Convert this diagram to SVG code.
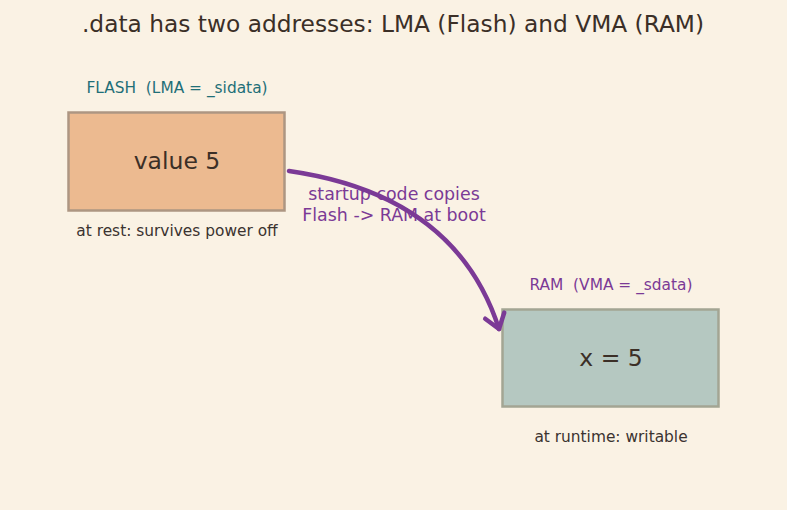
<svg xmlns="http://www.w3.org/2000/svg" width="787" height="510" viewBox="0 0 787 510">
<defs>
<style>
text{font-family:"DejaVu Sans","Liberation Sans",sans-serif;text-anchor:middle;white-space:pre}
.title{font-size:23.3px;fill:#3b2f27}
.lbl{font-size:15.4px}
.cap{font-size:15.4px;fill:#3b3330}
.val{font-size:23.5px;fill:#3b2f27}
.box{stroke-width:2.5}
.edge{fill:none;stroke:#7b3a96;stroke-width:4.5;stroke-linecap:round}
</style>
<marker id="arr" markerUnits="userSpaceOnUse" markerWidth="34" markerHeight="34" refX="17" refY="17" orient="auto" viewBox="0 0 34 34">
<polyline points="3,7 17,17 3,27" fill="none" stroke="#7b3a96" stroke-width="4.5" stroke-linecap="round" stroke-linejoin="round"/>
</marker>
</defs>
<rect width="787" height="510" fill="#faf2e4"/>
<text class="title" x="393" y="32" xml:space="preserve">.data has two addresses: LMA (Flash) and VMA (RAM)</text>
<g id="flash">
<text class="lbl" x="177" y="93" fill="#1f6f78" xml:space="preserve">FLASH  (LMA = _sidata)</text>
<rect class="box" x="68.5" y="112.5" width="216" height="98" fill="#ecba90" stroke="#ad9682"/>
<text class="val" x="177" y="169">value 5</text>
<text class="cap" x="177" y="236">at rest: survives power off</text>
</g>
<g id="ram">
<text class="lbl" x="611" y="290" fill="#7b3a96" xml:space="preserve">RAM  (VMA = _sdata)</text>
<rect class="box" x="502.5" y="309.5" width="216" height="97" fill="#b5c8c1" stroke="#a3a593"/>
<text class="val" x="611" y="366">x = 5</text>
<text class="cap" x="611" y="442">at runtime: writable</text>
</g>
<g id="connectors">
<path class="edge" d="M289,171 Q456,195 499,329" marker-end="url(#arr)"/>
<text x="394" y="200" font-size="17.4" fill="#7b3a96">startup code copies</text>
<text x="394" y="221" font-size="17.4" fill="#7b3a96">Flash -&gt; RAM at boot</text>
</g>
</svg>
